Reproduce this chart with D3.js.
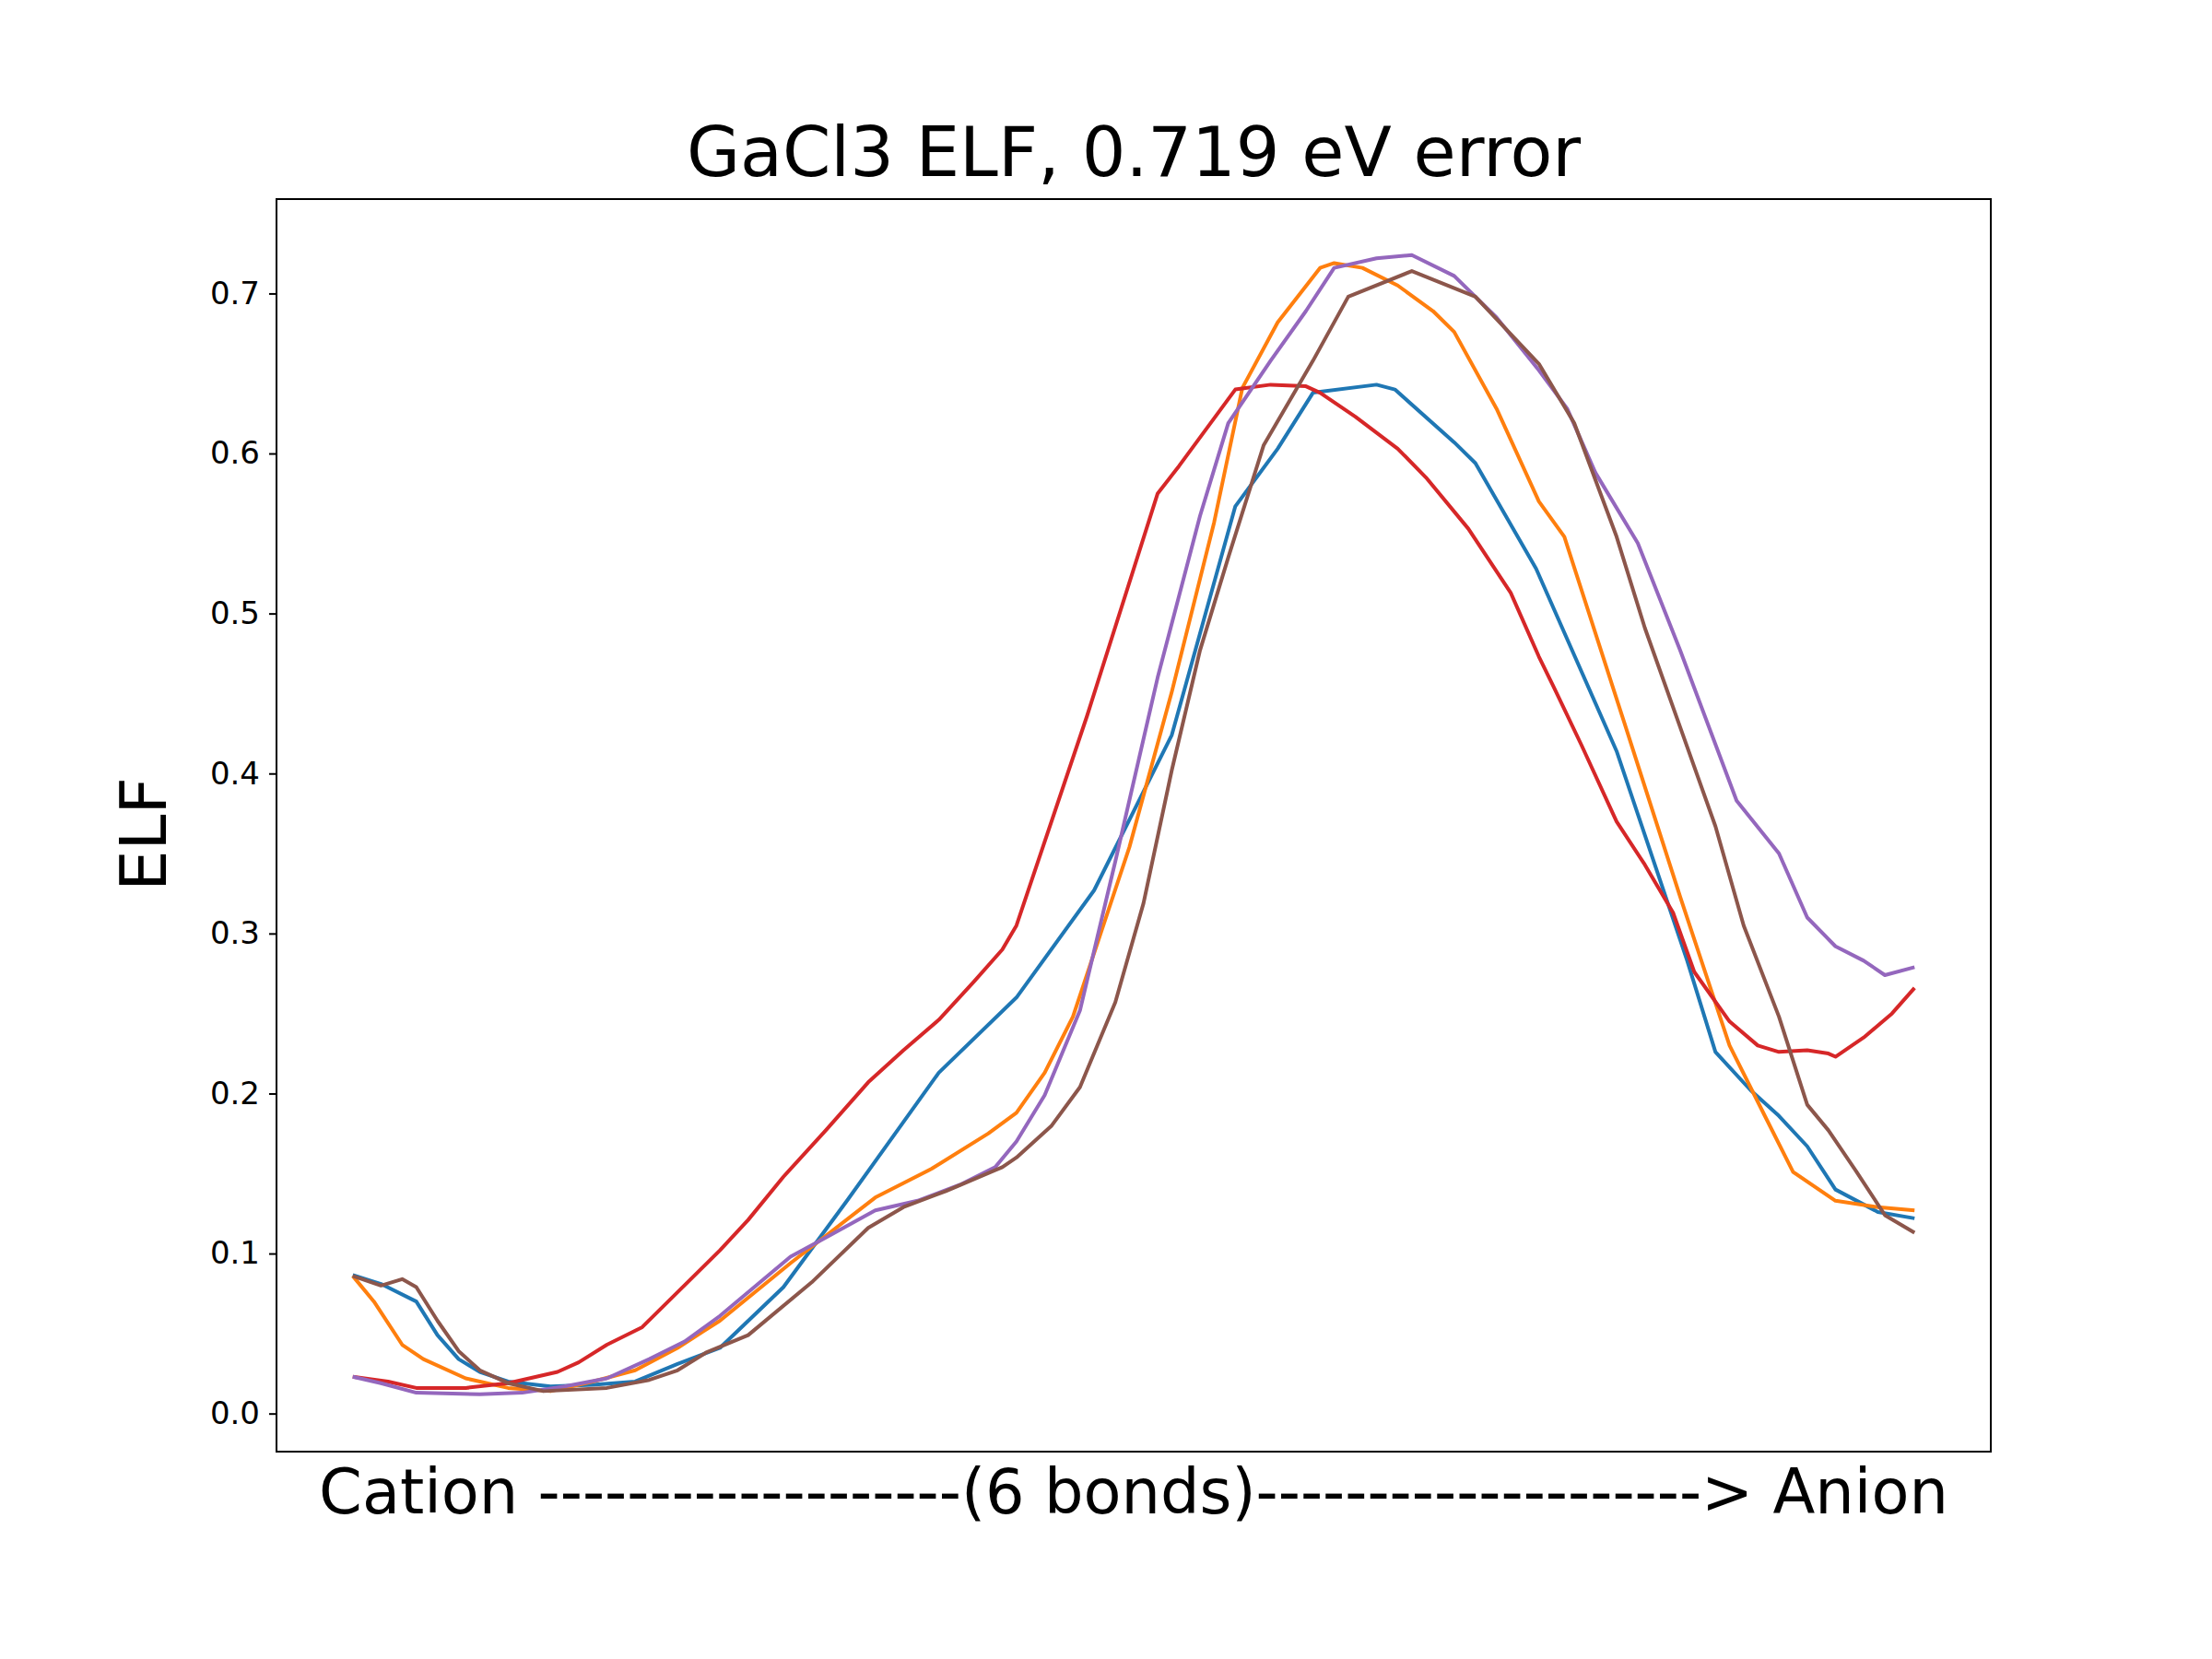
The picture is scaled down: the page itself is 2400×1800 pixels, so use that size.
<!DOCTYPE html>
<html><head><meta charset="utf-8">
<script src="https://cdn.jsdelivr.net/npm/d3@7"></script>
<style>body{margin:0;background:#fff}</style></head>
<body><svg id="c" width="2400" height="1800"></svg>
<script>
const blueX=[0,20,45,60,75,90,110,140,170,200,230,260,305,350,415,470,525,580,625,655,680,725,738,780,795,838,895,945,965,990,1010,1030,1050,1080,1106];
const blueY=[.0865,.081,.070,.049,.034,.026,.020,.017,.018,.020,.031,.041,.079,.133,.213,.260,.327,.424,.567,.603,.638,.643,.640,.607,.594,.528,.414,.283,.226,.202,.186,.167,.140,.126,.122];
const orangeX=[0,15,35,50,80,110,140,170,200,230,260,310,370,410,450,470,490,510,530,550,580,610,630,655,685,695,715,740,765,780,810,840,858,900,940,975,1000,1020,1050,1080,1106];
const orangeY=[.086,.070,.043,.034,.022,.016,.014,.020,.027,.041,.058,.094,.135,.153,.175,.188,.213,.248,.301,.354,.451,.557,.641,.682,.716,.719,.716,.705,.689,.676,.628,.570,.548,.433,.323,.230,.186,.151,.133,.129,.127];
const redX=[0,25,45,80,110,145,160,180,205,260,280,305,335,365,390,415,440,460,470,520,570,585,625,650,675,685,710,740,760,790,820,840,850,870,895,915,935,950,975,995,1010,1030,1045,1050,1070,1090,1106];
const redY=[.023,.020,.016,.016,.019,.026,.032,.043,.054,.102,.121,.148,.177,.207,.227,.246,.270,.290,.305,.436,.575,.592,.640,.643,.642,.638,.623,.603,.585,.553,.513,.473,.455,.418,.370,.343,.313,.276,.245,.230,.226,.227,.225,.223,.235,.250,.266];
const purpleX=[0,20,45,90,120,150,180,210,235,260,310,335,370,400,430,455,470,490,515,540,570,600,620,650,675,695,725,750,780,810,840,860,880,910,940,980,1010,1030,1050,1070,1085,1106];
const purpleY=[.023,.019,.013,.012,.013,.017,.022,.034,.045,.061,.098,.110,.127,.133,.143,.154,.170,.199,.252,.345,.460,.561,.619,.658,.689,.716,.722,.724,.711,.685,.652,.628,.588,.544,.477,.383,.350,.310,.292,.283,.274,.279];
const brownX=[0,20,35,45,60,75,90,110,135,180,210,230,250,280,325,365,390,420,460,470,495,515,540,560,580,600,620,645,680,705,750,795,840,865,895,915,940,965,985,1010,1030,1045,1065,1085,1106];
const brownY=[.086,.080,.084,.079,.058,.039,.027,.019,.014,.016,.021,.027,.038,.049,.082,.116,.129,.139,.154,.160,.180,.204,.257,.319,.402,.477,.535,.605,.658,.698,.714,.698,.656,.619,.548,.491,.429,.367,.305,.248,.193,.177,.151,.124,.113];
const yTicks=[0,0.1,0.2,0.3,0.4,0.5,0.6,0.7];
const series=[[blueX,blueY,"#1f77b4"],[orangeX,orangeY,"#ff7f0e"],[redX,redY,"#d62728"],[purpleX,purpleY,"#9467bd"],[brownX,brownY,"#8c564b"]];

const svg=d3.select("#c");
const L=300,R=2160,T=216,B=1575;
const x=d3.scaleLinear().domain([-54,1160]).range([L,R]);
const y=d3.scaleLinear().domain([-0.0238,0.759]).range([B,T]);
const line=d3.line().x(d=>x(d[0])).y(d=>y(d[1]));
series.forEach(([xs,ys,c])=>{
  svg.append("path").attr("d",line(xs.map((v,i)=>[v,ys[i]]))).attr("fill","none").attr("stroke",c).attr("stroke-width",4).attr("stroke-linejoin","round");
});
svg.append("rect").attr("x",L).attr("y",T).attr("width",R-L).attr("height",B-T).attr("fill","none").attr("stroke","#000").attr("stroke-width",2);
const ax=svg.append("g").attr("transform",`translate(${L},0)`).call(d3.axisLeft(y).tickValues(yTicks).tickFormat(d3.format(".1f")).tickSize(8).tickPadding(10));
ax.select(".domain").remove();
ax.selectAll("line").attr("stroke-width",2);
ax.selectAll("text").attr("font-family","DejaVu Sans").attr("font-size",34).attr("fill","#000");
svg.append("text").attr("x",(L+R)/2).attr("y",191).attr("text-anchor","middle").attr("font-family","DejaVu Sans").attr("font-size",75).text("GaCl3 ELF, 0.719 eV error");
svg.append("text").attr("x",(L+R)/2).attr("y",1642).attr("text-anchor","middle").attr("font-family","DejaVu Sans").attr("font-size",67).text("Cation -------------------(6 bonds)--------------------> Anion");
svg.append("text").attr("transform","translate(180,905) rotate(-90)").attr("text-anchor","middle").attr("font-family","DejaVu Sans").attr("font-size",70).text("ELF");
</script></body></html>
